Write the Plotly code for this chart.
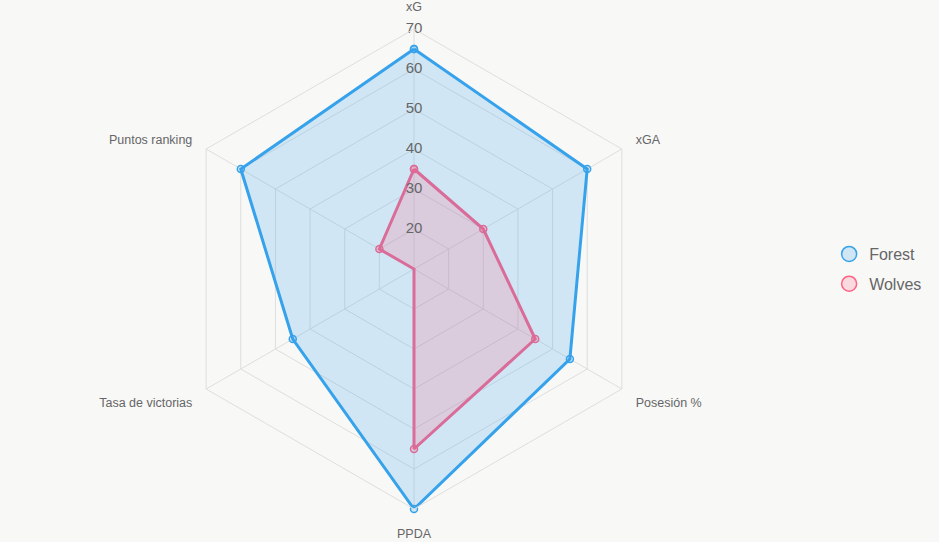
import plotly.graph_objects as go

categories = ["xG", "xGA", "Posesión %", "PPDA", "Tasa de victorias", "Puntos ranking"]
forest = [65, 60, 55, 70, 45, 60]
wolves = [35, 30, 45, 55, 10, 20]
tick_vals = [20, 30, 40, 50, 60, 70]

BLUE = "#36A2EB"
PINK = "#D96C98"
PINK_LEG = "#FF6384"

fig = go.Figure()

def closed(v):
    return v + v[:1]

theta_c = closed(categories)

fig.add_trace(go.Scatterpolar(
    r=closed(forest), theta=theta_c, mode="lines+markers", fill="toself",
    fillcolor="rgba(54,162,235,0.2)", line=dict(color=BLUE, width=3),
    marker=dict(size=7, color="rgba(54,162,235,0.2)", line=dict(color=BLUE, width=1.5)),
    showlegend=False, name="Forest"))
fig.add_trace(go.Scatterpolar(
    r=closed(wolves), theta=theta_c, mode="lines+markers", fill="toself",
    fillcolor="rgba(255,99,132,0.2)", line=dict(color=PINK, width=3),
    marker=dict(size=7, color="rgba(255,99,132,0.2)", line=dict(color=PINK, width=1.5)),
    showlegend=False, name="Wolves"))

# legend-only entries
fig.add_trace(go.Scatterpolar(
    r=[None], theta=[categories[0]], mode="markers", name="Forest", legendgroup="f",
    marker=dict(size=15, color="rgba(54,162,235,0.2)", line=dict(color=BLUE, width=1.5))))
fig.add_trace(go.Scatterpolar(
    r=[None], theta=[categories[0]], mode="markers", name="Wolves", legendgroup="w",
    marker=dict(size=15, color="rgba(255,99,132,0.2)", line=dict(color=PINK_LEG, width=1.5))))

# radial tick labels drawn along the xG spoke
fig.add_trace(go.Scatterpolar(
    r=tick_vals, theta=[categories[0]] * len(tick_vals), mode="text",
    text=[str(t) for t in tick_vals], textposition="middle center",
    textfont=dict(size=15, color="#666666", family="Liberation Sans, Arial, sans-serif"),
    showlegend=False, hoverinfo="skip"))

W, H = 939, 542
cx, cy, R = 414, 269, 240
fig.update_layout(
    width=W, height=H,
    paper_bgcolor="#f8f8f7", plot_bgcolor="#f8f8f7",
    margin=dict(l=0, r=0, t=cy - R, b=H - cy - R),
    font=dict(family="Liberation Sans, Arial, sans-serif", color="#666666"),
    polar=dict(
        domain=dict(x=[(cx - R) / W, (cx + R) / W], y=[0, 1]),
        bgcolor="rgba(0,0,0,0)",
        gridshape="linear",
        radialaxis=dict(range=[10, 70], tickvals=tick_vals, showticklabels=False,
                        ticks="", showline=False, gridcolor="#dedede", gridwidth=1,
                        angle=90),
        angularaxis=dict(direction="clockwise", rotation=90, gridcolor="#dedede",
                         linecolor="#dedede", showline=True, ticks="outside",
                         ticklen=13, tickcolor="rgba(0,0,0,0)",
                         tickfont=dict(size=12.5, color="#666666")),
    ),
    legend=dict(x=0.883, y=0.5, xanchor="left", yanchor="middle",
                font=dict(size=16, color="#666666"), bgcolor="rgba(0,0,0,0)",
                itemsizing="trace", traceorder="grouped", tracegroupgap=6),
)

fig.write_html("out.html")
